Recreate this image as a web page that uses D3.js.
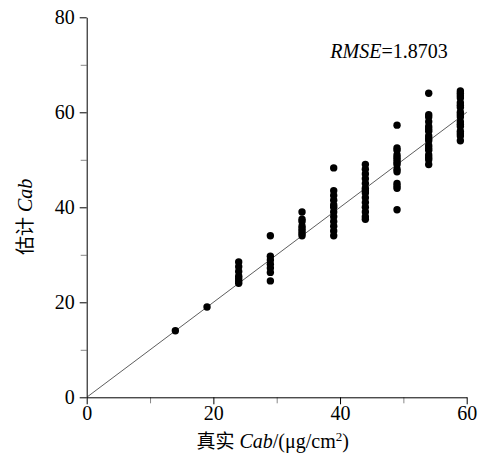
<html>
  <head>
    <style>
      body { margin: 0; background: #fff; }
      .dot { fill: #000; }
      .line { stroke: #333; stroke-width: 0.8; fill: none; }
      .minor line { stroke: #888; }
    </style>
    <script src="https://cdn.jsdelivr.net/npm/d3@7/dist/d3.min.js"></script>
  </head>
  <body></body>
</html>

<script>
  // measured Cab levels (x) and the estimates at each level (y)
  var trueCab = [14, 19, 24, 29, 34, 39, 44, 49, 54, 59];
  var estCab = [
    [14],
    [19],
    [24, 24.5, 25, 25.5, 26.5, 27.5, 28.5],
    [24.5, 26.3, 27.2, 28, 28.9, 29.7, 34],
    [34, 34.5, 35, 35.5, 36, 37, 37.5, 39],
    [34, 35, 36, 37, 38, 39, 40, 40.5, 41.5, 42.5, 43.5, 48.3],
    [37.5, 38, 39, 40, 41, 42, 43, 43.5, 44, 45, 46, 47, 48, 49],
    [39.5, 44, 44.5, 45, 47.5, 48, 49, 49.5, 50, 50.5, 51, 52, 52.5, 57.3],
    [49, 50, 50.5, 51, 52, 52.5, 53, 54, 54.5, 55, 56, 56.5, 57, 58, 59, 59.5, 64],
    [54, 55, 55.5, 56, 57, 57.5, 58, 59, 59.5, 60, 61, 61.5, 62, 63, 63.5, 64, 64.5]
  ];
  var xTicks = [0, 20, 40, 60], xMinor = [10, 30, 50];
  var yTicks = [0, 20, 40, 60, 80], yMinor = [10, 30, 50, 70];
  var rmse = "1.8703";

  var serif = "Liberation Serif";
  var cjk = "Noto Sans CJK SC";

  var points = [];
  trueCab.forEach((x, i) => estCab[i].forEach(y => points.push({ x: x, y: y })));

  var width = 480, height = 458;
  var margin = { left: 86.7, top: 17.3, right: 13.3, bottom: 60.7 };
  var w = width - margin.left - margin.right;
  var h = height - margin.top - margin.bottom;

  var svg = d3.select("body").append("svg")
    .attr("width", width).attr("height", height)
    .attr("font-family", serif);
  var g = svg.append("g")
    .attr("transform", "translate(" + margin.left + "," + margin.top + ")");

  var xScale = d3.scaleLinear().domain([0, 60]).range([0, w]);
  var yScale = d3.scaleLinear().domain([0, 80]).range([h, 0]);

  // minor ticks first so the major axis draws on top
  g.append("g").attr("class", "minor")
    .attr("transform", "translate(0," + h + ")")
    .call(d3.axisBottom(xScale).tickValues(xMinor).tickSize(6).tickFormat(""))
    .select(".domain").remove();
  g.append("g").attr("class", "minor")
    .call(d3.axisLeft(yScale).tickValues(yMinor).tickSize(6).tickFormat(""))
    .select(".domain").remove();

  var xAxis = g.append("g")
    .attr("transform", "translate(0," + h + ")")
    .call(d3.axisBottom(xScale).tickValues(xTicks).tickSize(7).tickSizeOuter(0).tickPadding(2));
  var yAxis = g.append("g")
    .call(d3.axisLeft(yScale).tickValues(yTicks).tickSize(7).tickSizeOuter(0).tickPadding(5));
  [xAxis, yAxis].forEach(a => {
    a.attr("font-family", serif).attr("font-size", 20);
    a.selectAll("text").attr("fill", "#000").attr("font-family", serif);
  });

  // 1:1 line
  g.append("path").attr("class", "line")
    .attr("d", d3.line().x(d => xScale(d)).y(d => yScale(d))([0, 60]));

  g.selectAll(".dot").data(points).enter().append("circle")
    .attr("class", "dot")
    .attr("cx", d => xScale(d.x))
    .attr("cy", d => yScale(d.y))
    .attr("r", 3.7);

  // RMSE note
  var note = g.append("text").attr("x", xScale(57)).attr("y", yScale(71.5))
    .attr("text-anchor", "end").attr("font-size", 20).attr("font-family", serif);
  note.append("tspan").attr("font-style", "italic").text("RMSE");
  note.append("tspan").text("=" + rmse);

  // axis titles
  var xt = svg.append("text").attr("x", margin.left + xScale(30) - 4).attr("y", 448)
    .attr("text-anchor", "middle").attr("font-size", 20).attr("font-family", serif);
  xt.append("tspan").attr("font-family", cjk).attr("font-size", 19).text("真实");
  xt.append("tspan").text(" ");
  xt.append("tspan").attr("font-style", "italic").text("Cab");
  xt.append("tspan").text("/(μg/cm");
  xt.append("tspan").attr("font-size", 13).attr("dy", -7).text("2");
  xt.append("tspan").attr("dy", 7).text(")");

  var yt = svg.append("text")
    .attr("transform", "translate(32," + (margin.top + yScale(38)) + ") rotate(-90)")
    .attr("text-anchor", "middle").attr("font-size", 20).attr("font-family", serif);
  yt.append("tspan").attr("font-family", cjk).attr("font-size", 19).text("估计");
  yt.append("tspan").text(" ");
  yt.append("tspan").attr("font-style", "italic").text("Cab");
</script>
